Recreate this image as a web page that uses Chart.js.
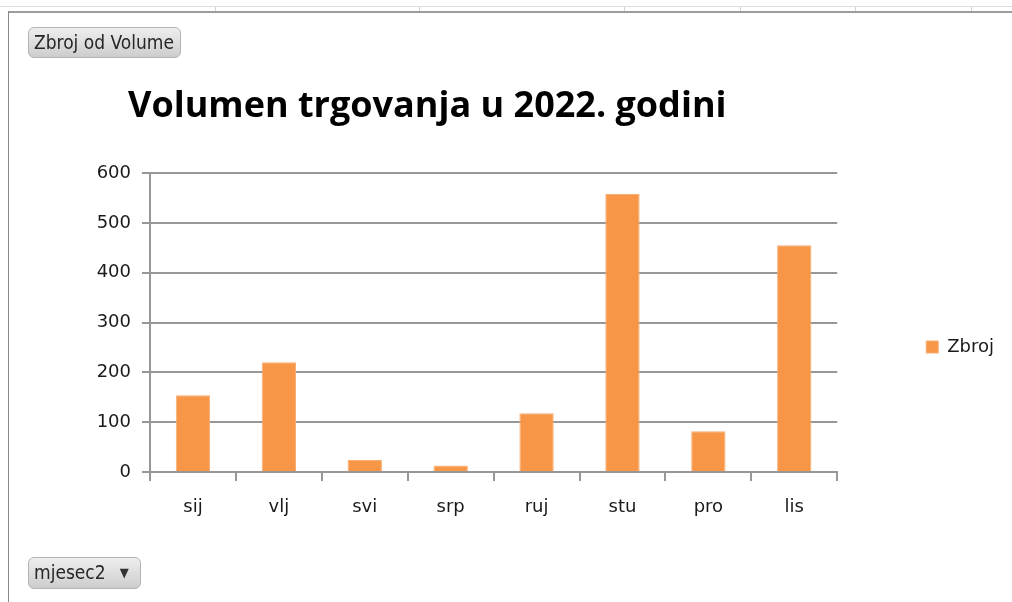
<!DOCTYPE html>
<html>
<head>
<meta charset="utf-8">
<script src="https://cdn.jsdelivr.net/npm/chart.js@4"></script>
<style>
  html, body { margin: 0; padding: 0; background: #fff; }
  body { width: 1012px; height: 602px; position: relative; overflow: hidden; }
  .sheet-line { position: absolute; left: 0; top: 6px; width: 1012px; height: 1px; background: #dcdcdc; }
  .col-line { position: absolute; top: 7px; width: 1px; height: 5px; background: #d2d2d2; }
  .frame-top { position: absolute; left: 8px; top: 11px; width: 1004px; height: 2px; background: #9c9c9c; }
  .frame-left { position: absolute; left: 8px; top: 11px; width: 1px; height: 591px; background: #8a8a8a; }
  #chart { position: absolute; left: 0; top: 0; }
  .btn {
    position: absolute; box-sizing: border-box;
    background: linear-gradient(#eeeeee, #cdcdcd);
    border: 1px solid #b3b3b3; border-radius: 6px;
    font-family: "Liberation Sans Narrow", "DejaVu Sans Condensed", sans-serif;
    font-size: 19px; color: #262626; line-height: 29px;
    padding-left: 5px; white-space: nowrap;
  }
  .arrow { display: inline-block; margin-left: 14px; font-size: 13px; vertical-align: 2px; color: #333; }
</style>
</head>
<body>
<div class="sheet-line"></div>
<div class="col-line" style="left:215px"></div>
<div class="col-line" style="left:419px"></div>
<div class="col-line" style="left:624px"></div>
<div class="col-line" style="left:740px"></div>
<div class="col-line" style="left:855px"></div>
<div class="col-line" style="left:971px"></div>
<div class="frame-top"></div>
<div class="frame-left"></div>

<canvas id="chart" width="1012" height="602"></canvas>

<div class="btn" style="left:28px; top:27px; width:153px; height:31px;">Zbroj od Volume</div>
<div class="btn" style="left:28px; top:557px; width:113px; height:32px;">mjesec2<span class="arrow">&#9660;</span></div>

<script>
// data
let months = ["sij", "vlj", "svi", "srp", "ruj", "stu", "pro", "lis"];
let volume = [154, 220, 24, 13, 118, 558, 82, 455];
let seriesName = "Zbroj";
let chartTitle = "Volumen trgovanja u 2022. godini";
let yMin = 0, yMax = 600, yStep = 100;

window.onload = function () {

  let gridColor = "#979797";
  let labelFont = { family: "'DejaVu Sans', Verdana, sans-serif", size: 18 };

  // title sits left of the plot centre, so move its box after layout
  let titleShift = {
    id: "titleShift",
    afterLayout: function (c) {
      let t = c.titleBlock;
      let w = t.right - t.left;
      t.left = 128;
      t.right = 128 + w;
    }
  };

  let ctx = document.getElementById("chart").getContext("2d");

  let chart = new Chart(ctx, {
    type: "bar",
    data: {
      labels: months,
      datasets: [{
        label: seriesName,
        data: volume,
        backgroundColor: "#f79646",
        borderColor: "#f9ad72",
        borderWidth: 1,
        barPercentage: 0.4,
        categoryPercentage: 1
      }]
    },
    options: {
      responsive: false,
      animation: false,
      layout: { padding: { left: 60, right: 8, top: 92, bottom: 0 } },
      plugins: {
        title: {
          display: true,
          text: chartTitle,
          align: "start",
          color: "#000",
          font: { family: "'Open Sans', Lato, sans-serif", size: 36, weight: "bold", lineHeight: 0.7 },
          padding: { top: 2, bottom: 53.8 }
        },
        legend: {
          position: "right",
          labels: {
            color: "#1a1a1a",
            font: labelFont,
            boxWidth: 12,
            boxHeight: 12,
            padding: 89
          }
        },
        tooltip: { enabled: false }
      },
      scales: {
        x: {
          grid: {
            display: true,
            drawOnChartArea: false,
            drawTicks: true,
            tickLength: 9,
            color: gridColor,
            lineWidth: 2
          },
          border: { color: gridColor, width: 2 },
          ticks: { color: "#1a1a1a", font: labelFont, padding: 16, maxRotation: 0 },
          afterFit: function (scale) { scale.height = 130; }
        },
        y: {
          min: yMin,
          max: yMax,
          grid: { color: gridColor, lineWidth: 2, tickLength: 8 },
          border: { color: gridColor, width: 2 },
          ticks: { stepSize: yStep, color: "#1a1a1a", font: labelFont, padding: 11 },
          afterFit: function (scale) { scale.width = 90; }
        }
      }
    },
    plugins: [titleShift]
  });

};
</script>
</body>
</html>
